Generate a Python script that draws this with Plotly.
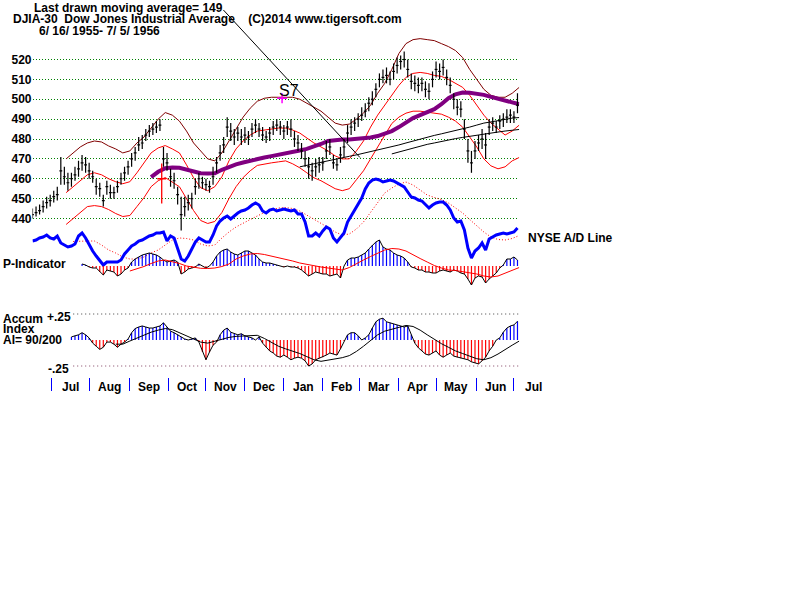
import plotly.graph_objects as go
import pandas as pd

FONT = "Liberation Sans, Arial, sans-serif"
W, H = 800, 600

# ---------------- calendar ----------------
dates = pd.bdate_range("1955-06-16", "1956-07-05")
N = len(dates)
ext = pd.bdate_range("1955-06-16", "1956-08-01")
month_starts = [i for i in range(1, len(ext)) if ext[i].month != ext[i - 1].month]
tick_days = [m for m in month_starts if m < N]
label_days = [(a + b) / 2 for a, b in zip(month_starts[:-1], month_starts[1:])]
month_names = [ext[m].strftime("%b") for m in month_starts[:-1]]

# ---------------- data ----------------
# DJIA daily bars, sampled every 2 trading days from 1955-06-16
BAR_STEP = 2
close = [442, 443, 444, 446, 448, 449, 451, 452, 464, 461,
         458, 460, 462, 465, 468, 467, 464, 461, 456, 455,
         449, 456, 453, 453, 456, 460, 463, 466, 470, 473,
         477, 478, 482, 484, 485, 486, 487, 470, 468, 461,
         459, 452, 442, 446, 448, 450, 456, 460, 458, 457,
         456, 461, 468, 473, 477, 486, 484, 481, 483, 481,
         482, 481, 485, 487, 485, 482, 481, 483, 486, 487,
         486, 484, 486, 485, 480, 478, 474, 470, 466, 464,
         466, 467, 468, 474, 476, 468, 467, 472, 476, 483,
         486, 488, 490, 492, 494, 498, 500, 505, 510, 511,
         512, 510, 514, 517, 519, 520, 515, 509, 508, 507,
         508, 505, 504, 510, 515, 514, 516, 511, 507, 500,
         496, 495, 485, 474, 468, 474, 478, 480, 477, 486,
         488, 486, 489, 490, 491, 492, 491, 497]
high = [445, 446, 447, 449, 451, 452, 454, 456, 471, 466,
        463, 463, 466, 469, 472, 471, 468, 464, 460, 458,
        452, 459, 457, 456, 459, 463, 466, 469, 473, 476,
        481, 482, 485, 487, 488, 489, 490, 476, 473, 465,
        463, 456, 451, 451, 452, 453, 460, 463, 461, 460,
        459, 466, 471, 477, 481, 491, 488, 485, 486, 485,
        486, 484, 488, 490, 488, 486, 484, 486, 489, 490,
        489, 487, 489, 490, 484, 482, 478, 474, 471, 468,
        470, 471, 471, 479, 480, 472, 470, 476, 480, 487,
        490, 491, 493, 496, 498, 501, 504, 508, 513, 515,
        516, 514, 518, 521, 522, 524, 520, 513, 512, 511,
        511, 509, 508, 514, 519, 518, 520, 515, 511, 503,
        500, 499, 490, 480, 474, 479, 482, 485, 483, 490,
        491, 489, 492, 493, 495, 495, 494, 503]
low = [440, 441, 442, 443, 445, 446, 448, 449, 457, 457,
       454, 456, 459, 461, 464, 463, 460, 458, 452, 451,
       446, 452, 450, 450, 453, 457, 459, 462, 466, 469,
       474, 475, 479, 481, 482, 483, 484, 466, 464, 456,
       455, 447, 434, 441, 444, 445, 452, 455, 455, 454,
       453, 457, 463, 469, 473, 481, 479, 477, 479, 477,
       478, 477, 481, 483, 481, 479, 478, 479, 482, 484,
       482, 480, 482, 481, 476, 474, 470, 466, 460, 459,
       461, 463, 464, 470, 472, 465, 464, 468, 471, 478,
       482, 484, 486, 489, 491, 494, 497, 501, 506, 508,
       508, 507, 510, 513, 515, 516, 511, 505, 504, 503,
       504, 501, 500, 506, 511, 510, 512, 507, 503, 495,
       492, 491, 480, 468, 463, 470, 474, 475, 470, 482,
       484, 483, 485, 486, 488, 488, 488, 493]

# Band curves, sampled every 4 trading days starting at day 19
BAND_START, BAND_STEP = 19, 4
upper_band = [470, 473, 476, 478, 479, 478.5, 476.5, 475, 473, 474,
              478, 481, 485.5, 490, 493.3, 492, 489, 484, 478, 474,
              470, 469, 473, 479, 485, 491, 495.5, 499, 500.5, 501,
              501, 501, 501, 500, 498, 496, 494, 491, 488, 487,
              487.5, 490, 493, 497, 503, 508, 515, 523, 528, 530,
              530.5, 530, 529.5, 528, 526.5, 524.5, 521, 515, 510, 505,
              502, 501, 501, 503, 506]
mid_band = [453, 456, 459, 462, 463, 462, 460, 458.5, 457.5, 458.5,
            463, 468, 473, 475.5, 476.7, 475, 473, 467, 460.5, 455.5,
            454, 456, 461, 469, 475, 479, 482, 484, 484.5, 485,
            485.5, 485.5, 484.5, 483, 480.5, 478, 476, 474, 471.5, 470,
            470, 474, 479, 486, 492, 497, 502, 507, 511, 513,
            513.5, 513, 512, 511.5, 510, 508, 506, 502, 497, 492,
            488, 485, 482, 484, 487]
lower_band = [437, 440, 443, 446, 446.5, 446, 444.5, 442.5, 441, 441.5,
              446, 450.5, 456, 459, 460.6, 458.5, 456, 450, 444, 439,
              437.5, 438.5, 443, 450, 456, 460.6, 464, 466.7, 467.5, 468,
              468.5, 469, 467.5, 465.5, 463, 460.5, 459, 457, 455, 454,
              455, 459.5, 464, 470, 476, 482, 487.8, 491, 493, 494,
              494, 493.5, 493, 492.5, 491, 489, 486, 481, 476, 470,
              466.5, 465, 466, 469, 470.7]
ma50_start = 67
ma50 = [460.8, 463.5, 465.3, 465.7, 465.5, 464.5, 463.5, 462.8,
        462.6, 462.8, 464.5, 466, 467.2, 468.2, 469.2, 470, 470.7, 471.4,
        472, 472.7, 473.5, 474.2, 475, 476, 477.5, 479, 479.5, 479.8,
        479.8, 480, 480.3, 480.8, 481.5, 482.5, 484, 486, 488.5, 490.5,
        492, 493.5, 495, 497.5, 500.5, 502.5, 503.4, 503.3, 503, 502.2,
        501.2, 500.2, 499.2, 498.2, 497.5]
maA_start = 151
maA = [466, 466.8, 467.5, 468.2, 469, 469.8, 470.5, 471.3, 472, 472.8,
       473.5, 474.3, 475.2, 476, 477, 478, 479, 480, 481, 481.8,
       482.6, 483.4, 484.2, 485, 486, 487, 488, 488.6, 489.3, 490,
       490.5, 490.8]
ma149_start = 203
ma149 = [472.5, 473.5, 474.5, 475.5, 476.5, 477.3, 478, 478.8, 479.5, 480.2,
         480.8, 481.4, 482, 482.6, 483.1, 483.5, 484, 484.4, 484.8]

# NYSE A/D line (relative level), every 2 trading days from day 0
ad_line = [19, 20, 22, 23, 25, 22, 21, 24, 17, 15,
           13, 14, 16, 24, 27, 22, 15, 9, 4, -1,
           -5, -2, -2, -2, -2, 0, 6, 10, 14, 16,
           19, 20, 22, 24, 25, 27, 27, 28, 19, 24,
           22, 12, 1, -1, 4, 11, 18, 22, 20, 18,
           18, 25, 34, 39, 42, 44, 41, 44, 47, 49,
           50, 52, 55, 57, 55, 49, 47, 50, 51, 49,
           50, 51, 50, 49, 50, 46, 46, 38, 24, 24,
           27, 24, 29, 33, 31, 22, 18, 23, 27, 38,
           44, 49, 55, 62, 71, 77, 80, 81, 80, 78,
           79, 80, 79, 77, 75, 73, 68, 63, 62, 60,
           59, 55, 52, 55, 57, 58, 58, 55, 50, 42,
           38, 39, 30, 12, 2, 9, 12, 17, 10, 21,
           23, 25, 26, 27, 26, 27, 28, 32]
ad_ma_start = 23
ad_ma = [18.5, 19, 19, 19, 15, 10, 7, 3, 1,
         1, 3, 7, 10, 15, 20, 22, 21.5, 20, 16,
         14, 15, 22, 28, 33, 37, 40.5, 44, 47.5, 50,
         52, 52.5, 51.5, 49, 45, 41, 37, 32.5, 28, 25,
         26, 31, 38, 48, 58, 67, 72, 76, 78, 75,
         70, 65, 62.5, 60.5, 57, 52, 47, 40.5, 34, 28,
         23, 20.5, 20, 21.5, 24.5]

# P-Indicator, every 2 trading days from day 28
p_start = 28
p_ind = [2, 1, -1, -2, -2, -6,
         -9, -4, -5, -6, -10, -8, -4, -2, 4, 7,
         9, 11, 12, 13, 12, 11, 9, 6, 4, 5,
         6, 4, -8, -6, -3, -2, -1, 2, 0, -2,
         0, 4, 10, 14, 16, 17, 14, 12, 11, 13,
         15, 15, 13, 11, 7, 4, 3, 3, 2, 1,
         0, -1, 0, -1, -1, -2, -4, -7, -10, -8,
         -6, -7, -8, -8, -10, -9, -8, -12, 0, 6,
         8, 8, 9, 11, 13, 17, 21, 24, 26, 19,
         17, 16, 13, 11, 10, 8, 4, -1, -2, -4,
         -4, -6, -6, -7, -7, -5, -4, -5, -6, -4,
         -5, -7, -8, -13, -19, -12, -10, -11, -17, -13,
         -10, -7, -2, 1, 7, 7, 9, 6]
p_ma_start = 55
p_ma = [-5,
        -3, -0.5, 2.5, 5, 6, 4.5, 2.5, 0, -1.5, -2.3,
        -2.5, -2, -0.5, 2, 7, 10, 12, 12.5, 11.5, 10,
        8, 6.5, 5, 3, 1.5, 0, -1, -2, -3, -4,
        -1.5, 2.5, 6, 9.5, 13, 16, 17.5, 17, 15, 11,
        7.5, 4, 0.5, -2, -4, -4.5, -5.5, -6.5, -8, -10,
        -11, -10, -7, -4.5, -1.5]

# Accumulation Index, every 2 trading days from day 22
ai_start = 22
accum = [0.03, 0.04, 0.05, 0.07, 0.05, 0.02, -0.03, -0.06, -0.09,
         -0.07, -0.02, -0.02, -0.04, -0.07, -0.04, -0.02, 0.01, 0.07, 0.11,
         0.125, 0.135, 0.125, 0.115, 0.115, 0.125, 0.135, 0.165, 0.125, 0.085,
         0.07, 0.05, 0.03, 0.01, 0.0, 0.01, 0.02, -0.02, -0.115, -0.19,
         -0.115, -0.05, -0.02, 0.05, 0.095, 0.115, 0.075, 0.06, 0.05, 0.06,
         0.04, 0.03, 0.02, 0.0, 0.03, -0.03, -0.07, -0.105, -0.125, -0.155,
         -0.165, -0.145, -0.165, -0.19, -0.175, -0.165, -0.175, -0.2, -0.25, -0.23,
         -0.19, -0.175, -0.165, -0.145, -0.125, -0.135, -0.145, -0.085, -0.01, 0.05,
         0.07, 0.07, 0.04, 0.0, 0.02, 0.05, 0.115, 0.175, 0.2, 0.21,
         0.175, 0.165, 0.155, 0.145, 0.135, 0.125, 0.135, 0.05, -0.03, -0.075,
         -0.105, -0.135, -0.145, -0.125, -0.105, -0.145, -0.165, -0.145, -0.125, -0.155,
         -0.165, -0.175, -0.18, -0.19, -0.21, -0.22, -0.23, -0.2, -0.165, -0.105,
         -0.06, 0.0, 0.02, 0.075, 0.115, 0.135, 0.145, 0.18]
ai_ma_start = 47
ai_ma = [-0.04, -0.04, -0.01,
         0.02, 0.05, 0.075, 0.095, 0.11, 0.10, 0.07, 0.04, 0.005, -0.02,
         -0.03, -0.01, 0.005, 0.025, 0.035, 0.04, 0.045, 0.045, 0.015, -0.02,
         -0.06, -0.085, -0.105, -0.13, -0.16, -0.19, -0.205, -0.195, -0.18, -0.17,
         -0.15, -0.11, -0.06, -0.005, 0.05, 0.085, 0.105, 0.125, 0.14, 0.13,
         0.095, 0.05, 0.005, -0.035, -0.07, -0.105, -0.13, -0.155, -0.18, -0.19,
         -0.17, -0.135, -0.09, -0.05, -0.01]

price_ticks = [440, 450, 460, 470, 480, 490, 500, 510, 520]
ai_levels = [0.25, -0.25]

# signals
s7_day, s7_price = 141, 500.5
buy_day, buy_low, buy_high, buy_level = 73, 447.5, 467.7, 460
ma_pointer_day, ma_pointer_price = 185, 470.7

# ---------------- layout geometry ----------------
X_LEFT, PX_DAY = 32.5, 1.77
AXIS_Y = 377


def yrange(va, pa, vb, pb):
    s = (va - vb) / (pb - pa)
    return [va - s * (H - pa), va + s * pa]


def days(start, step, n):
    return [start + step * i for i in range(n)]


fig = go.Figure()


def line(x, y, color, width=1, dash=None, yaxis="y"):
    fig.add_trace(go.Scatter(x=x, y=y, mode="lines", yaxis=yaxis,
                             line=dict(color=color, width=width, dash=dash),
                             hoverinfo="skip", connectgaps=False))


def histo(xd, vals, yaxis):
    px_, py_, nx_, ny_ = [], [], [], []
    for d, v in zip(xd, vals):
        if v >= 0:
            px_ += [d, d, None]
            py_ += [0, v, None]
        else:
            nx_ += [d, d, None]
            ny_ += [0, v, None]
    line(px_, py_, "#0000FF", 1.2, yaxis=yaxis)
    line(nx_, ny_, "#FF0000", 1.2, yaxis=yaxis)


# ----- price panel -----
bdays = days(0, BAR_STEP, len(close))
band_days = days(BAND_START, BAND_STEP, len(upper_band))
line(band_days, upper_band, "#800000", 1)
line(band_days, mid_band, "#FF0000", 1)
line(band_days, lower_band, "#FF0000", 1)
line(days(maA_start, BAND_STEP, len(maA)), maA, "#000000", 1)
line(days(ma149_start, BAND_STEP, len(ma149)), ma149, "#000000", 1)
line(days(ma50_start, BAND_STEP, len(ma50)), ma50, "#800080", 4)

bx, by = [], []
for d, h, l, c in zip(bdays, high, low, close):
    bx += [d, d, None, d - 0.8, d + 0.8, None]
    by += [l, h, None, c, c, None]
line(bx, by, "#000000", 1.2)

# buy signal cross
line([buy_day, buy_day, None, buy_day - 2.5, buy_day + 2.5],
     [buy_low, buy_high, None, buy_level, buy_level], "#FF0000", 1.3)
# S7 marker
fig.add_trace(go.Scatter(x=[s7_day], y=[s7_price], mode="markers",
                         marker=dict(symbol="cross-thin", size=7,
                                     line=dict(color="#FF00FF", width=1.5)),
                         hoverinfo="skip"))

# ----- A/D line -----
line(days(ad_ma_start, BAND_STEP, len(ad_ma)), ad_ma, "#FF0000", 1, dash="1px,2px", yaxis="y2")
line(bdays, ad_line, "#0000FF", 3, yaxis="y2")

# ----- P-Indicator -----
pdays = days(p_start, BAR_STEP, len(p_ind))
histo(pdays, p_ind, "y3")
line(pdays, p_ind, "#000000", 1, yaxis="y3")
line(days(p_ma_start, BAND_STEP, len(p_ma)), p_ma, "#FF0000", 1, yaxis="y3")

# ----- Accumulation index -----
aidays = days(ai_start, BAR_STEP, len(accum))
for lv, col in zip(ai_levels, ["#404040", "#804060"]):
    line([ai_start + 1, N - 1], [lv, lv], col, 1, dash="1px,3px", yaxis="y4")
histo(aidays, accum, "y4")
line(aidays, accum, "#000000", 1, yaxis="y4")
line(days(ai_ma_start, BAND_STEP, len(ai_ma)), ai_ma, "#000000", 1, yaxis="y4")

# ---------------- annotations ----------------
ann = []


def label(text, px, py, anchor="left", size=12, bold=True):
    ann.append(dict(text=("<b>%s</b>" % text) if bold else text,
                    x=px / W, y=1 - py / H, xref="paper", yref="paper",
                    xanchor=anchor, yanchor="middle", showarrow=False,
                    borderpad=0,
                    font=dict(family=FONT, size=size, color="black")))


NB = "\u00a0"
label("Last drawn moving average= 149", 33, 8)
label("DJIA-30" + NB * 2 + "Dow Jones Industrial Average" + NB * 4 + "(C)2014 www.tigersoft.com", 12, 19)
label("6/ 16/ 1955- 7/ 5/ 1956", 38, 31)
label("P-Indicator", 2, 263.5)
label("Accum", 2, 318.5)
label("Index", 2, 329)
label("AI= 90/200", 2, 340)
label("+.25", 72, 317, anchor="right")
label("-.25", 70, 368.5, anchor="right")
label("NYSE A/D Line", 527, 238.5)
label("S7", 278, 90, size=16, bold=False)

# month names centred between the blue month ticks
for d, name in zip(label_days, month_names):
    label(name, X_LEFT + PX_DAY * d, 387, anchor="center")

# pointer from the title to the last drawn moving average
ann.append(dict(text="", x=ma_pointer_day, y=ma_pointer_price, xref="x", yref="y",
                ax=222 - (X_LEFT + PX_DAY * ma_pointer_day), ay=8 - 157,
                showarrow=True, arrowhead=0, arrowwidth=1, arrowcolor="black",
                standoff=0, startstandoff=0))

x_dom = [X_LEFT / W, (X_LEFT + PX_DAY * (N - 1)) / W]
fig.update_layout(
    width=W, height=H, margin=dict(l=0, r=0, t=0, b=0),
    paper_bgcolor="white", plot_bgcolor="white", showlegend=False,
    annotations=ann,
    xaxis=dict(domain=x_dom, range=[0, N - 1], anchor="free", position=1 - AXIS_Y / H,
               tickmode="array", tickvals=tick_days, ticks="outside", ticklen=13,
               tickcolor="#0000FF", tickwidth=1, showticklabels=False,
               showgrid=False, zeroline=False, showline=False),
    yaxis=dict(domain=[0, 1], range=yrange(520, 59.5, 440, 218.5),
               tickmode="array", tickvals=price_ticks,
               ticktext=["<b>%d</b>" % v for v in price_ticks],
               tickfont=dict(family=FONT, size=12, color="black"),
               showgrid=True, gridcolor="#008000", gridwidth=1, griddash="1px,2px",
               zeroline=False, showline=False, ticks=""),
    yaxis2=dict(overlaying="y", range=yrange(0, 260, 100, 160), visible=False),
    yaxis3=dict(overlaying="y", range=yrange(0, 266, 10, 256), visible=False),
    yaxis4=dict(overlaying="y", range=yrange(0.25, 314, -0.25, 366), visible=False),
)

fig.write_html("out.html")
